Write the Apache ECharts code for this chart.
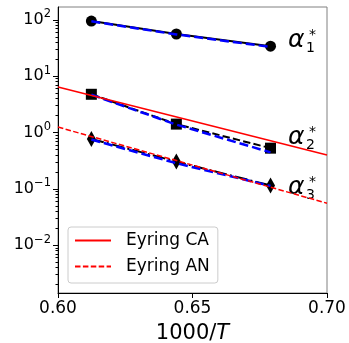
<!DOCTYPE html>
<html><head><meta charset="utf-8">
<script src="https://cdn.jsdelivr.net/npm/echarts@6/dist/echarts.min.js"></script>
<style>html,body{margin:0;padding:0;background:#fff}#c{width:349px;height:343px}</style>
</head><body><div id="c"></div>
<script>
// 1000/T values of the measurements
const xInvT = [0.6124, 0.6440, 0.6790];
// measured rates (black markers)
const alpha1 = [95, 56, 34];
const alpha2 = [4.77, 1.41, 0.528];
const alpha3 = [0.77, 0.305, 0.115];
// model curves (blue dashed)
const alpha1Fit = [94, 55, 33];
const alpha2Fit = [4.7, 1.38, 0.445];
const alpha3Fit = [0.75, 0.285, 0.113];
// Eyring lines (red)
const eyringX = [0.60, 0.70];
const eyringCA = [6.4, 0.40];
const eyringAN = [1.25, 0.0557];
const xTickLabels = ['0.60', '0.65', '0.70'];
const yTickValues = [0.01, 0.1, 1, 10, 100];
const yMinorDecades = [0.001, 0.01, 0.1, 1, 10, 100];
const yMinorMantissas = [2, 3, 4, 5, 6, 7, 8, 9];
const seriesNames = ['Eyring CA', 'Eyring AN'];
const alphaLabels = ['1', '2', '3'];

const FONT = 'DejaVu Sans';
const Y_MIN = 0.00142, Y_MAX = 168.8;
const zip = (xs, ys) => xs.map((x, i) => [x, ys[i]]);
const yMinorValues = [];
yMinorDecades.forEach(d => yMinorMantissas.forEach(m => {
  const v = +(d * m).toPrecision(6);
  if (v > Y_MIN && v < Y_MAX) yMinorValues.push(v);
}));

function blackSeries(data, symbol, size, dash) {
  return {
    type: 'line', data: zip(xInvT, data), symbol: symbol, symbolSize: size,
    itemStyle: { color: '#000' },
    lineStyle: { color: '#000', width: 2, type: dash },
    z: 2, silent: true
  };
}
function blueSeries(data) {
  return {
    type: 'line', data: zip(xInvT, data), symbol: 'none',
    lineStyle: { color: '#0000ff', width: 2.5, type: [9, 4] },
    z: 3, silent: true
  };
}

function yLabel(v) {
  const e = Math.round(Math.log10(v));
  const es = String(e).replace('-', '\u2212');
  return '{b|10}{s|' + es + '}';
}

const alphaY = [40, 137, 187];
const graphics = [];
alphaY.forEach((cy, i) => {
  graphics.push({ type: 'text', left: 288, top: cy - 12.5, style: { text: 'α', font: 'italic 25px "DejaVu Sans"', fill: '#000' } });
  graphics.push({ type: 'text', left: 306, top: cy + 8 - 7, style: { text: alphaLabels[i], font: '14px "DejaVu Sans"', fill: '#000' } });
  graphics.push({ type: 'text', left: 309, top: cy - 4.5 - 7, style: { text: '*', font: '14px "DejaVu Sans"', fill: '#000' } });
});

const chart = echarts.init(document.getElementById('c'), null, { renderer: 'canvas' });
chart.setOption({
  animation: false,
  backgroundColor: '#fff',
  textStyle: { fontFamily: FONT },
  grid: { left: 58, right: 22, top: 7, bottom: 50, show: true, borderColor: '#808080', borderWidth: 1,
          containLabel: false, outerBoundsMode: 'none' },
  xAxis: {
    type: 'value', min: 0.6, max: 0.7, interval: 0.05,
    axisLine: { lineStyle: { color: '#000', width: 1 } },
    axisTick: { show: true, length: 5, lineStyle: { color: '#000' } },
    splitLine: { show: false },
    axisLabel: {
      fontSize: 17, color: '#000', fontFamily: FONT, margin: 7,
      formatter: v => { const i = Math.round((v - 0.6) / 0.05); return xTickLabels[i] || ''; }
    },
    name: '{n|1000/}{i|T}', nameLocation: 'middle', nameGap: 30,
    nameTextStyle: {
      rich: {
        n: { fontSize: 21, fontFamily: FONT, color: '#000' },
        i: { fontSize: 21, fontFamily: FONT, fontStyle: 'italic', color: '#000' }
      }
    }
  },
  yAxis: [{
    type: 'log', logBase: 10, min: Y_MIN, max: Y_MAX,
    axisLine: { show: true, lineStyle: { color: '#000', width: 1 } },
    axisTick: { show: true, length: 5, customValues: yTickValues, lineStyle: { color: '#000' } },
    splitLine: { show: false },
    axisLabel: {
      margin: 7, color: '#000', formatter: yLabel, customValues: yTickValues,
      rich: {
        b: { fontSize: 16, fontFamily: FONT, color: '#000', verticalAlign: 'middle', lineHeight: 23 },
        s: { fontSize: 11.5, fontFamily: FONT, color: '#000', verticalAlign: 'top', lineHeight: 23 }
      }
    }
  }, {
    type: 'log', logBase: 10, min: Y_MIN, max: Y_MAX, position: 'left', offset: 0,
    axisLine: { show: false },
    axisTick: { show: true, length: 2.5, customValues: yMinorValues, lineStyle: { color: '#000', width: 1 } },
    axisLabel: { show: false },
    splitLine: { show: false }
  }],
  legend: {
    data: seriesNames, orient: 'vertical', left: 68, top: 227,
    padding: [5, 8, 8, 6], itemWidth: 36, itemHeight: 17, itemGap: 9,
    itemStyle: { opacity: 0 },
    backgroundColor: 'rgba(255,255,255,0.8)', borderColor: '#cccccc', borderWidth: 1, borderRadius: 3,
    textStyle: { fontSize: 17, fontFamily: FONT, color: '#000', padding: [0, 0, 0, 10] }
  },
  graphic: graphics,
  series: [
    blackSeries(alpha1, 'circle', 11, 'solid'),
    blackSeries(alpha2, 'rect', 11, [7.4, 3.2]),
    blackSeries(alpha3, 'diamond', [9, 16], [12.8, 3.2, 2, 3.2]),
    blueSeries(alpha1Fit), blueSeries(alpha2Fit), blueSeries(alpha3Fit),
    { name: seriesNames[0], type: 'line', data: zip(eyringX, eyringCA), symbol: 'none',
      lineStyle: { color: '#ff0000', width: 1.5, type: 'solid' }, itemStyle: { color: '#ff0000' }, z: 4, silent: true },
    { name: seriesNames[1], type: 'line', data: zip(eyringX, eyringAN), symbol: 'none',
      lineStyle: { color: '#ff0000', width: 1.5, type: [5.5, 2.4] }, itemStyle: { color: '#ff0000' }, z: 4, silent: true }
  ]
});
</script></body></html>
